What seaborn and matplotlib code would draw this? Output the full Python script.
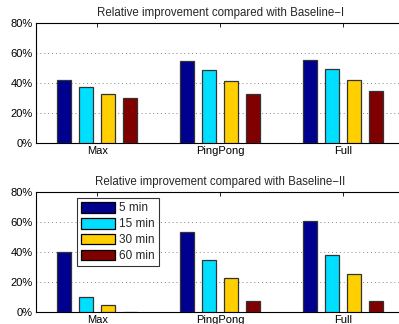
import matplotlib
matplotlib.use("Agg")
import matplotlib.pyplot as plt
import seaborn as sns
import pandas as pd
from matplotlib.ticker import FuncFormatter

categories = ["Max", "PingPong", "Full"]
durations = ["5 min", "15 min", "30 min", "60 min"]
baseline1 = {
    "5 min": [41.8, 54.7, 55.2],
    "15 min": [37.3, 48.5, 49.2],
    "30 min": [32.8, 41.3, 42.0],
    "60 min": [29.7, 32.8, 34.9],
}
baseline2 = {
    "5 min": [40.0, 53.5, 60.7],
    "15 min": [9.7, 34.6, 38.2],
    "30 min": [4.5, 22.9, 25.6],
    "60 min": [0.3, 7.6, 7.6],
}
titles = ["Relative improvement compared with Baseline\u2212I",
          "Relative improvement compared with Baseline\u2212II"]
yticks = [0, 20, 40, 60, 80]
colors = ["#00008F", "#00DFFF", "#FFCF00", "#800000"]

sns.set_style("white")
plt.rcParams["font.family"] = ["Liberation Sans", "DejaVu Sans"]

def to_df(d):
    rows = []
    for dur in durations:
        for c, v in zip(categories, d[dur]):
            rows.append({"cat": c, "dur": dur, "val": v})
    return pd.DataFrame(rows)

fig = plt.figure(figsize=(3.99, 3.24), dpi=100)
W = 369 / 399
positions = [[35.7 / 399, (324 - 143) / 324, W, 120 / 324],
             [35.7 / 399, (324 - 312) / 324, W, 120 / 324]]

for i, (data, title) in enumerate(zip([baseline1, baseline2], titles)):
    ax = fig.add_axes(positions[i])
    df = to_df(data)
    sns.barplot(data=df, x="cat", y="val", hue="dur", order=categories,
                hue_order=durations, palette=colors, width=0.716, gap=0.38,
                edgecolor="#333333", linewidth=0.9, saturation=1, ax=ax,
                legend=(i == 1), zorder=3)
    ax.set_xlim(-0.5, 2.5)
    ax.set_ylim(0, 80)
    ax.set_yticks(yticks)
    ax.yaxis.set_major_formatter(FuncFormatter(lambda v, p: f"{int(v)}%"))
    ax.set_xlabel("")
    ax.set_ylabel("")
    ax.set_title(title, fontsize=8.3, pad=5)
    ax.tick_params(direction="in", top=True, right=True, length=3,
                   width=0.6, labelsize=8, pad=2, colors="black")
    for s in ax.spines.values():
        s.set_visible(True)
        s.set_color("black")
        s.set_linewidth(0.8)
    ax.yaxis.grid(True, linestyle=(0, (1, 3)), color="#888888", linewidth=0.7, zorder=0)
    ax.set_axisbelow(True)
    if i == 1:
        leg = ax.legend(loc="upper left", bbox_to_anchor=(0.112, 0.95),
                        borderaxespad=0, fontsize=8.5, handlelength=2.9,
                        handleheight=1.0, labelspacing=0.3, handletextpad=0.3,
                        borderpad=0.35, frameon=True, fancybox=False)
        leg.get_frame().set_edgecolor("black")
        leg.get_frame().set_linewidth(0.8)
        for h in leg.legend_handles:
            h.set_edgecolor("black")

fig.savefig("out.png", dpi=100)
